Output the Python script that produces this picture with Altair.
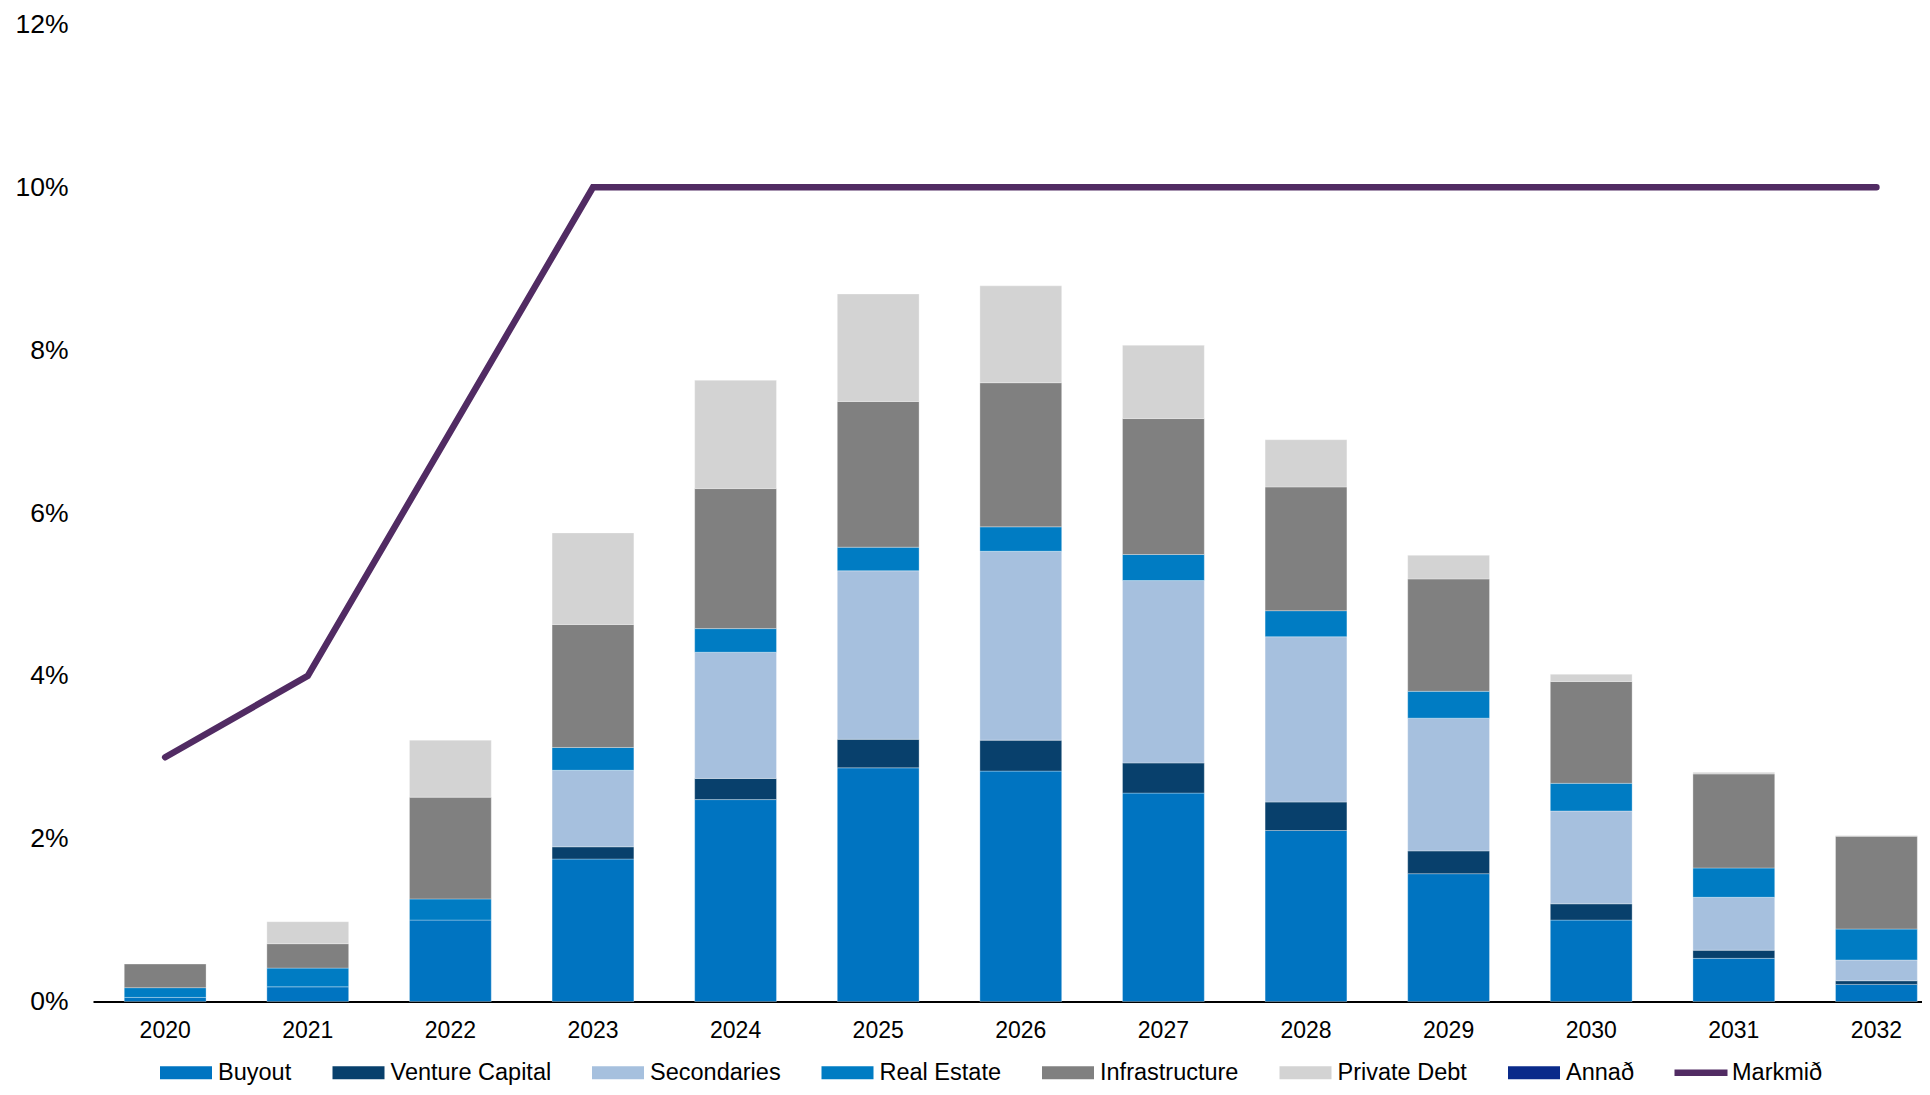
import altair as alt
import pandas as pd

FONT = "Liberation Sans"

years = ["2020", "2021", "2022", "2023", "2024", "2025", "2026",
         "2027", "2028", "2029", "2030", "2031", "2032"]

categories = ["Buyout", "Venture Capital", "Secondaries", "Real Estate",
              "Infrastructure", "Private Debt", "Annað"]
colors = ["#0074C1", "#08406C", "#A6C0DE", "#007CC3", "#808080", "#D3D3D3", "#0A2A8A"]

buyout = [0.05, 0.18, 1.00, 1.75, 2.48, 2.87, 2.83, 2.56, 2.10, 1.57, 1.00, 0.53, 0.21]
venture = [0, 0, 0, 0.15, 0.26, 0.35, 0.38, 0.37, 0.35, 0.28, 0.20, 0.10, 0.045]
secondaries = [0, 0, 0, 0.94, 1.55, 2.07, 2.32, 2.24, 2.03, 1.63, 1.14, 0.65, 0.255]
real_estate = [0.12, 0.23, 0.26, 0.28, 0.29, 0.29, 0.30, 0.32, 0.32, 0.33, 0.34, 0.36, 0.38]
infrastructure = [0.29, 0.30, 1.25, 1.51, 1.72, 1.79, 1.77, 1.67, 1.52, 1.38, 1.25, 1.155, 1.14]
private_debt = [0, 0.27, 0.70, 1.125, 1.33, 1.32, 1.19, 0.90, 0.58, 0.29, 0.09, 0.02, 0.01]
annad = [0, 0, 0, 0, 0, 0, 0, 0, 0, 0, 0, 0, 0]

target_name = "Markmið"
target = [3, 4, 7, 10, 10, 10, 10, 10, 10, 10, 10, 10, 10]
y_ticks = [0, 2, 4, 6, 8, 10, 12]

series = [buyout, venture, secondaries, real_estate, infrastructure, private_debt, annad]
rows = []
for si, (name, vals) in enumerate(zip(categories, series)):
    for yr, v in zip(years, vals):
        if v > 0:
            rows.append({"year": yr, "cat": name, "value": v, "ord": si})
bar_df = pd.DataFrame(rows)
line_df = pd.DataFrame({"year": years, "target": target, "name": [target_name] * len(years)})

x_enc = alt.X(
    "year:N", sort=years,
    scale=alt.Scale(paddingInner=0.4264, paddingOuter=0.126, align=0.87),
    axis=alt.Axis(title=None, labelAngle=0, ticks=False, domainColor="black",
                  domainWidth=2, labelFontSize=23, labelPadding=18,
                  labelColor="black", labelFont=FONT),
)

bars = alt.Chart(bar_df).mark_bar(
    stroke="#ffffff", strokeOpacity=0.3, strokeWidth=1
).encode(
    x=x_enc,
    y=alt.Y("value:Q", stack="zero",
            scale=alt.Scale(domain=[0, 12], nice=False),
            axis=alt.Axis(title=None, values=y_ticks, labelExpr="datum.value + '%'",
                          domain=False, ticks=False, grid=False, labelFontSize=26.5,
                          labelPadding=25, labelColor="black", labelFont=FONT)),
    color=alt.Color("cat:N", scale=alt.Scale(domain=categories, range=colors),
                    legend=alt.Legend(title=None, orient="none", legendX=67, legendY=1022,
                                      direction="horizontal",
                                      symbolType="M-1,-0.25L1,-0.25L1,0.25L-1,0.25Z",
                                      symbolSize=2704, symbolStrokeWidth=0,
                                      labelOffset=6, columnPadding=40.5,
                                      labelFontSize=23.5, labelFont=FONT,
                                      labelColor="black", labelLimit=400, padding=0)),
    order=alt.Order("ord:Q", sort="ascending"),
)

line = alt.Chart(line_df).mark_line(strokeWidth=6.5, strokeCap="round").encode(
    x=alt.X("year:N", sort=years),
    y=alt.Y("target:Q"),
    stroke=alt.Stroke("name:N", scale=alt.Scale(domain=[target_name], range=["#512B63"]),
                      legend=alt.Legend(title=None, orient="none", legendX=1578, legendY=1018.25,
                                        symbolType="stroke", symbolSize=2809,
                                        symbolStrokeWidth=6.5, labelOffset=1,
                                        labelFontSize=23.5, labelFont=FONT,
                                        labelColor="black", labelLimit=400, padding=0)),
)

chart = alt.layer(bars, line).properties(
    width=1829, height=977,
    padding={"left": 85, "top": 16.5, "right": 0, "bottom": 85.5},
    autosize=alt.AutoSizeParams(type="none"),
).configure_view(stroke=None)

chart.save("out.html", embed_options={"renderer": "svg", "actions": False})
